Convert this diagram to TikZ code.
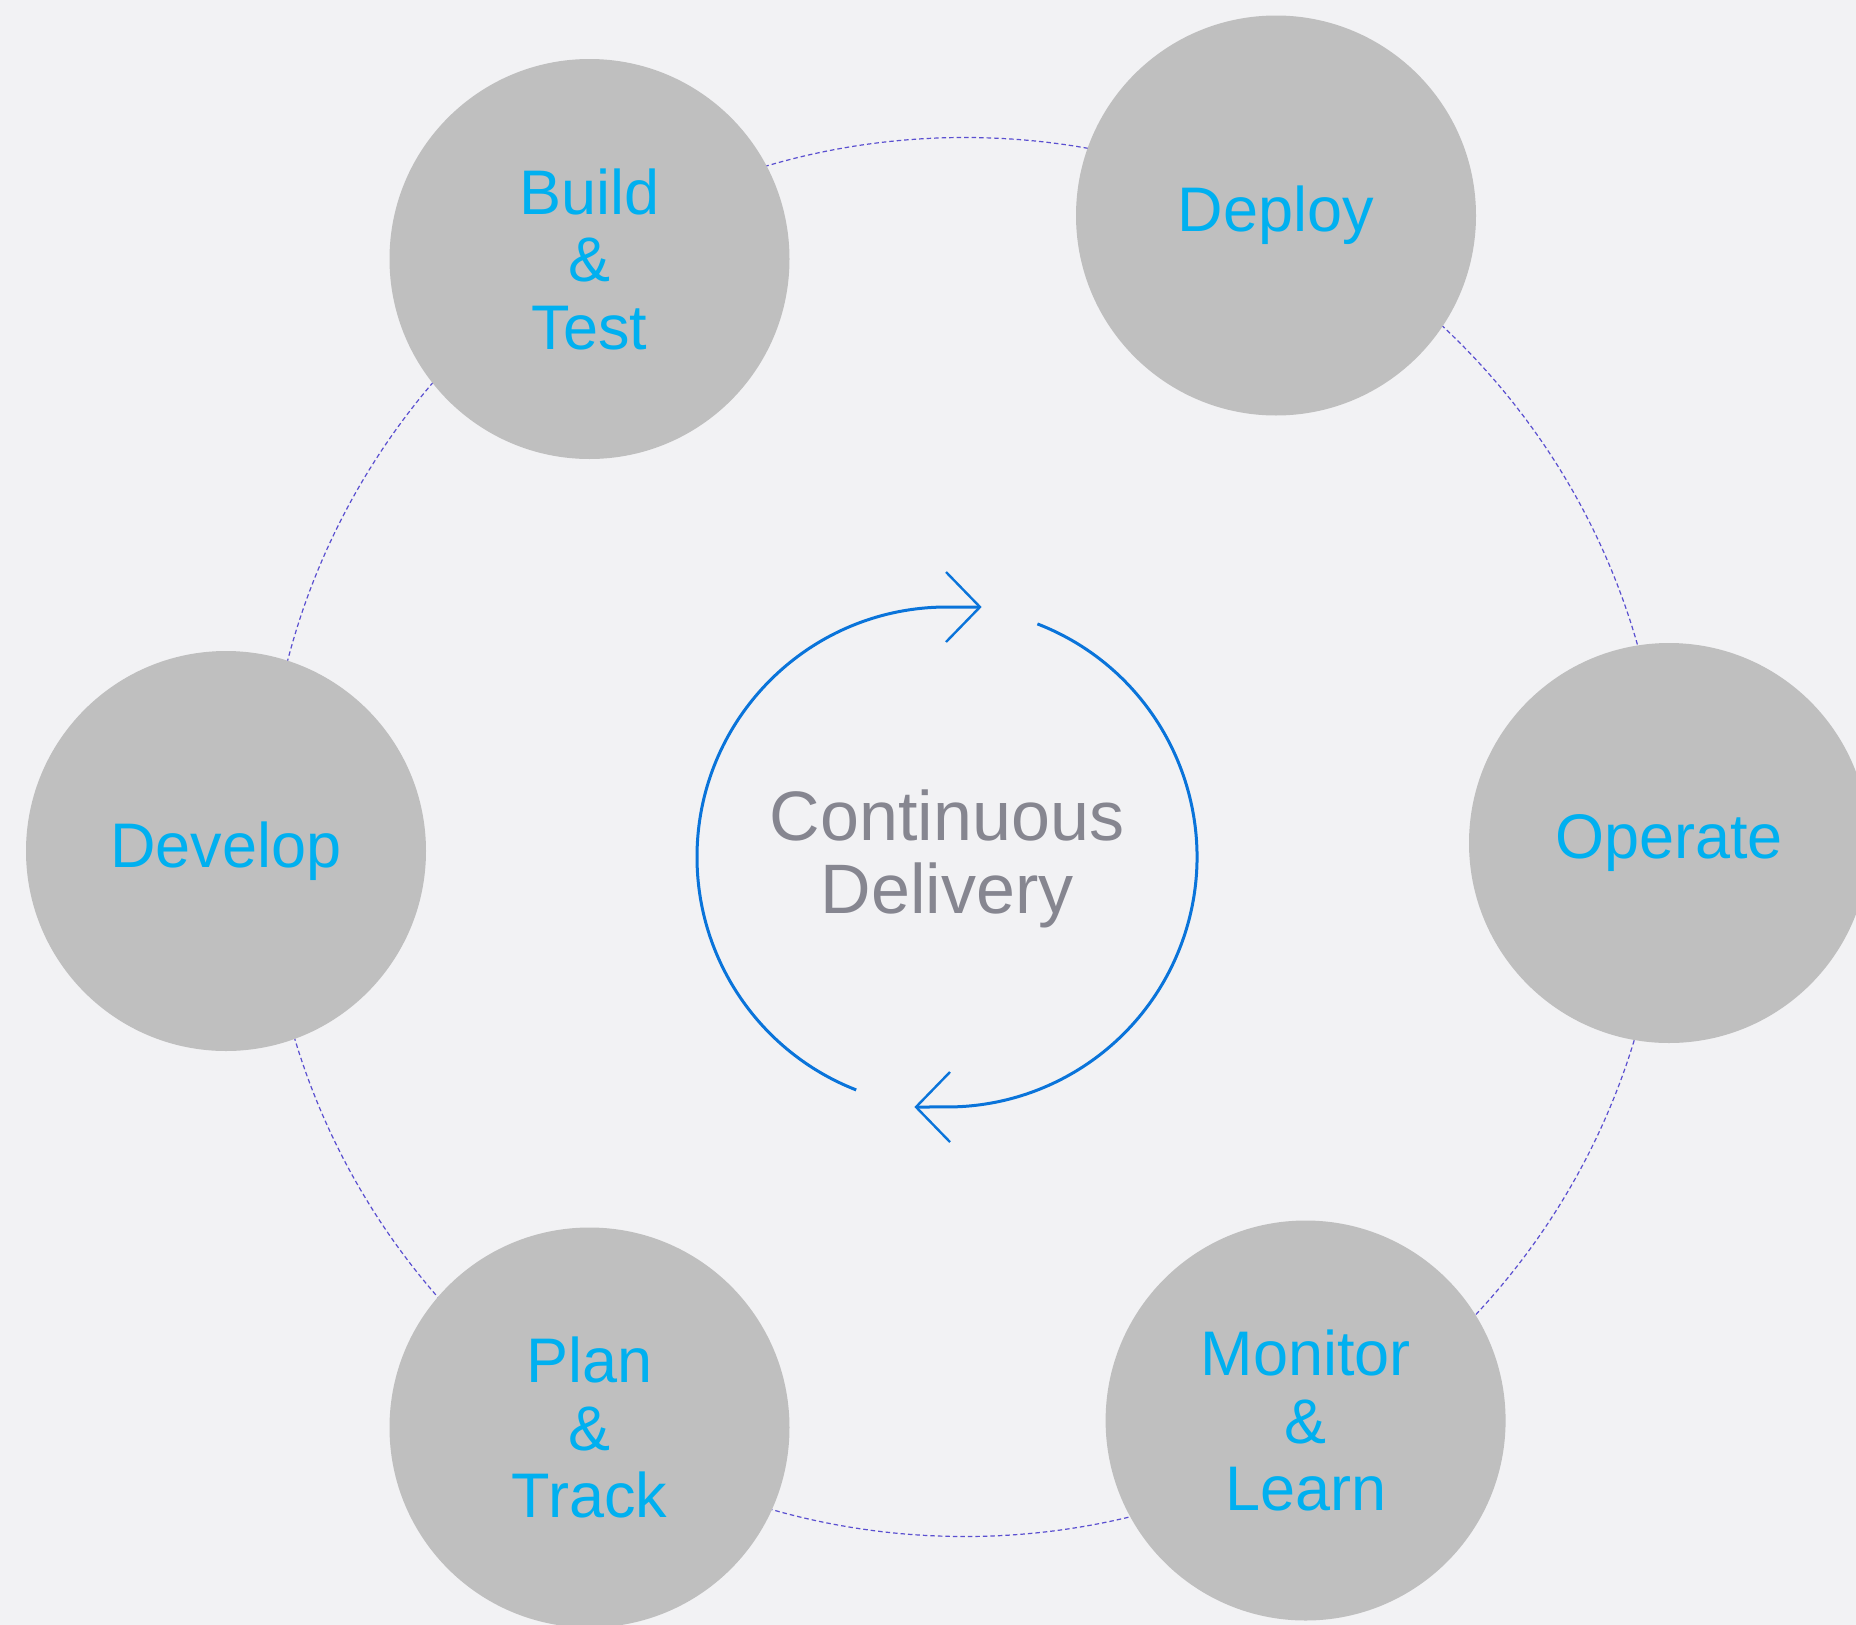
\documentclass[tikz,border=0pt]{standalone}
\usepackage{fontspec}
\setmainfont{Liberation Sans}
\definecolor{bgc}{HTML}{F2F2F4}
\definecolor{stagefill}{HTML}{BFBFBF}
\definecolor{stagetext}{HTML}{00B0F0}
\definecolor{ringc}{HTML}{5A4FD0}
\definecolor{cyclec}{HTML}{0A74DA}
\definecolor{centertext}{HTML}{868690}
\tikzset{
  stage/.style={circle, fill=stagefill, draw=none, minimum size=400pt, inner sep=0pt,
    text=stagetext, align=center, font=\fontsize{63}{67.5}\selectfont},
  ring/.style={draw=ringc, line width=1.2pt, dash pattern=on 4.5pt off 3pt},
  cycleline/.style={draw=cyclec, line width=3pt},
  chevron/.style={draw=cyclec, line width=2.4pt},
}
\begin{document}
\begin{tikzpicture}[x=1pt, y=-1pt]
  \fill[bgc] (0,0) rectangle (1856,1625);
  \useasboundingbox (0,0) rectangle (1856,1625);
  % dashed ring
  \node[circle, minimum size=1399pt, inner sep=0pt, ring] (ringnode) at (964.7,837) {};
  % stages
  \node[stage] (build) at (589.5,259) {Build\\\&\\Test};
  \node[stage] (deploy) at (1276,215.5) {Deploy};
  \node[stage] (operate) at (1669,843) {Operate};
  \node[stage] (develop) at (226,851) {Develop};
  \node[stage] (plan) at (589.5,1427.5) {Plan\\\&\\Track};
  \node[stage] (monitor) at (1305.6,1420.5) {Monitor\\\&\\Learn};
  % center text
  \node[text=centertext, align=center, font=\fontsize{70}{73}\selectfont] (cd) at (947,859) {Continuous\\Delivery};
  % cycle arrows
  \coordinate (ltop) at (947,607);
  \coordinate (ltip) at (980,607);
  \coordinate (rstart) at (1037.4,623.9);
  \coordinate (rbot) at (947,1107);
  \coordinate (rtip) at (916,1107);
  \coordinate (ua) at (946,572);
  \coordinate (ub) at (946,642);
  \coordinate (la) at (950,1072);
  \coordinate (lb) at (950,1142);
  \draw[cycleline] (ltip) -- (ltop) arc[start angle=-90, end angle=-248.7, radius=250];
  \draw[cycleline] (rstart) arc[start angle=-68.8, end angle=90, radius=250] -- (rtip);
  \draw[chevron] (ua) -- (ltip) -- (ub);
  \draw[chevron] (la) -- (rtip) -- (lb);
\end{tikzpicture}
\end{document}
